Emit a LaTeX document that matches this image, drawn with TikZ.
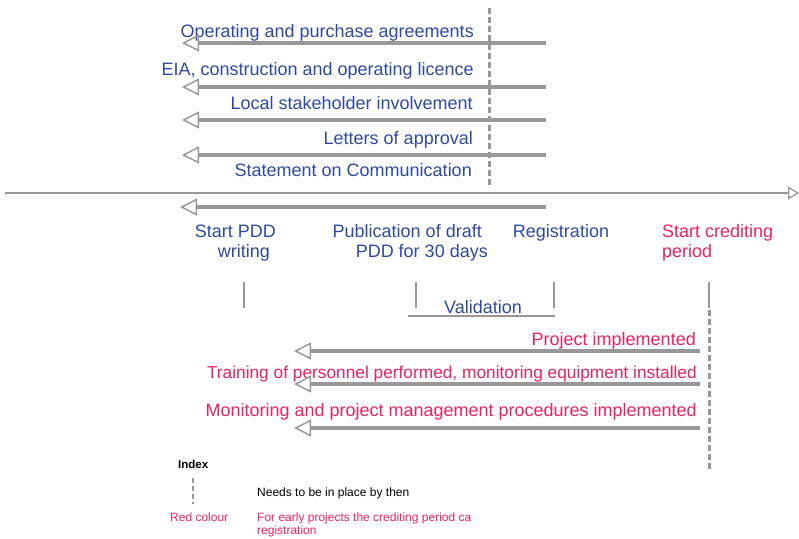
\documentclass[tikz,border=0pt]{standalone}
\usepackage{fontspec}
\setmainfont{Liberation Sans}
\usetikzlibrary{arrows.meta}
\definecolor{cdmblue}{RGB}{46,74,158}
\definecolor{cdmred}{RGB}{232,35,95}
\definecolor{linegray}{RGB}{152,152,152}
\begin{document}
\begin{tikzpicture}[x=1pt,y=-1pt,
		bigtext/.style={font=\fontsize{18}{20}\selectfont,inner sep=0pt},
		bluetext/.style={bigtext,text=cdmblue},
		redtext/.style={bigtext,text=cdmred},
		smalltext/.style={font=\fontsize{12}{13}\selectfont,inner sep=0pt},
		backarrow/.style={linegray,line width=3.2pt,-{Triangle[open,length=17pt,width=17pt,line width=1.5pt]}},
		timeline/.style={linegray,line width=2.8pt,-{Triangle[open,length=11pt,width=13pt,line width=1.3pt]}},
		tickline/.style={linegray,line width=2.8pt},
		deadline/.style={linegray,line width=3pt,dash pattern=on 6pt off 3pt}]
			\useasboundingbox (0,0) rectangle (799,538);
			% registration deadline and timeline
			\coordinate (regtop) at (489,8);
			\coordinate (regbot) at (489,187);
			\draw[deadline] (regtop) -- (regbot);
			\coordinate (tlstart) at (5,193);
			\coordinate (tlend) at (799,193);
			\draw[timeline] (tlstart) -- (tlend);
			% before registration
			\node[bluetext,anchor=base east] (agree) at (474,37) {Operating and purchase agreements};
			\node[bluetext,anchor=base east] (licence) at (474,75) {EIA, construction and operating licence};
			\node[bluetext,anchor=base east] (stake) at (473,109) {Local stakeholder involvement};
			\node[bluetext,anchor=base east] (approval) at (473,144) {Letters of approval};
			\node[bluetext,anchor=base east] (statement) at (472,176) {Statement on Communication};
			\coordinate (agreeR) at (546,43);  \coordinate (agreeL) at (182,43);
			\coordinate (licenceR) at (546,87); \coordinate (licenceL) at (182,87);
			\coordinate (stakeR) at (546,120); \coordinate (stakeL) at (182,120);
			\coordinate (approvalR) at (546,155); \coordinate (approvalL) at (182,155);
			\coordinate (pddR) at (546,207); \coordinate (pddL) at (180,207);
			\draw[backarrow] (agreeR) -- (agreeL);
			\draw[backarrow] (licenceR) -- (licenceL);
			\draw[backarrow] (stakeR) -- (stakeL);
			\draw[backarrow] (approvalR) -- (approvalL);
			\draw[backarrow] (pddR) -- (pddL);
			% milestones
			\node[bluetext,align=right,anchor=base east] (startpdd) at (276,257) {Start PDD\\writing\hspace*{6pt}};
			\node[bluetext,align=right,anchor=base east] (publication) at (488,257) {Publication of draft\hspace*{6pt}\\PDD for 30 days};
			\node[bluetext,anchor=base] (registration) at (561,237) {Registration};
			\node[redtext,align=left,anchor=base west] (crediting) at (662,257) {Start crediting\\period};
			\draw[tickline] (244,282) -- (244,308);
			\draw[tickline] (416,282) -- (416,308);
			\draw[tickline] (554,282) -- (554,308);
			\draw[tickline] (709,282) -- (709,308);
			\coordinate (valL) at (408,316);
			\coordinate (valR) at (555,316);
			\draw[tickline] (valL) -- (valR);
			\node[bluetext,anchor=base] (validation) at (483,313) {Validation};
			% after crediting start
			\coordinate (credtop) at (709,310);
			\coordinate (credbot) at (709,470);
			\draw[deadline] (credtop) -- (credbot);
			\node[redtext,anchor=base east] (implemented) at (696,345) {Project implemented};
			\node[redtext,font=\fontsize{17.3}{20}\selectfont,anchor=base east] (training) at (697,378) {Training of personnel performed, monitoring equipment installed};
			\node[redtext,anchor=base east] (monitoring) at (697,416) {Monitoring and project management procedures implemented};
			\coordinate (implR) at (700,351); \coordinate (implL) at (294,351);
			\coordinate (trainR) at (700,384); \coordinate (trainL) at (294,384);
			\coordinate (monR) at (700,428); \coordinate (monL) at (294,428);
			\draw[backarrow] (implR) -- (implL);
			\draw[backarrow] (trainR) -- (trainL);
			\draw[backarrow] (monR) -- (monL);
			% index
			\node[smalltext,font=\fontsize{11.5}{13}\selectfont\bfseries,anchor=base west] (index) at (178,468) {Index};
			\coordinate (keytop) at (193,478);
			\coordinate (keybot) at (193,504);
			\draw[linegray,line width=2.2pt,dash pattern=on 5pt off 3pt] (keytop) -- (keybot);
			\node[smalltext,anchor=base west] (needs) at (257,496) {Needs to be in place by then};
			\node[smalltext,text=cdmred,anchor=base west] (redcol) at (170,521) {Red colour};
			\node[smalltext,text=cdmred,anchor=base west,align=left] (early) at (257,534) {For early projects the crediting period ca\\registration};
		\end{tikzpicture}
\end{document}
